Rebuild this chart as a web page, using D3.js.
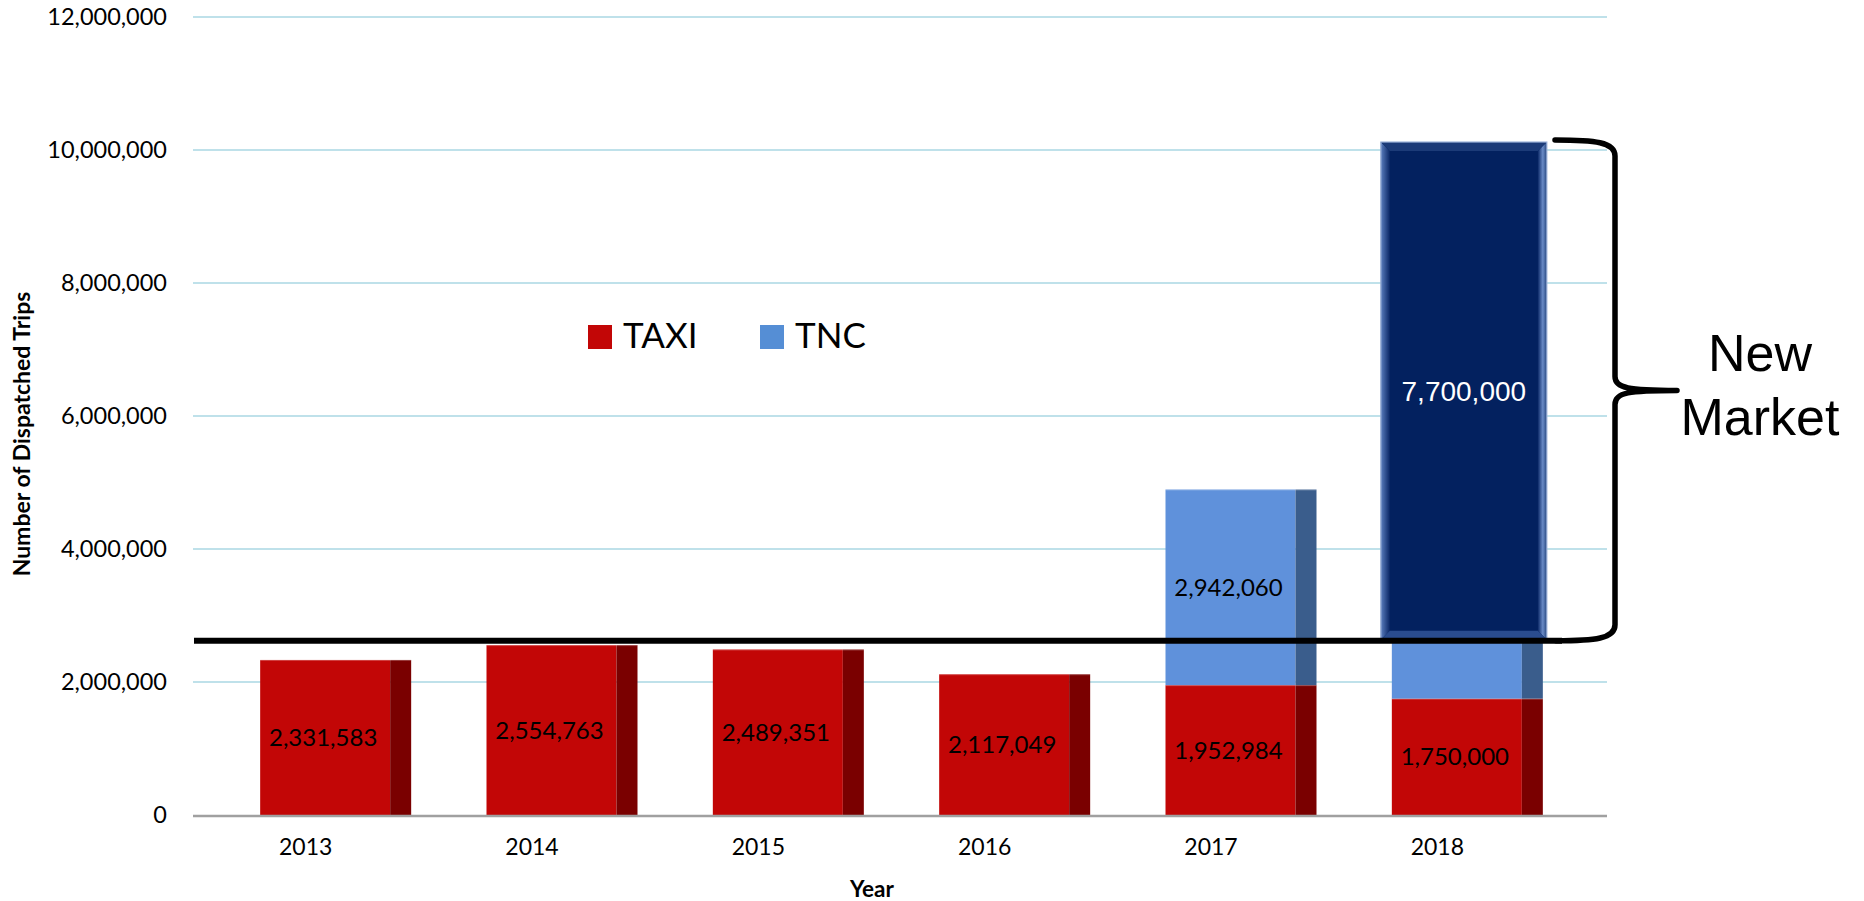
<!DOCTYPE html>
<html>
<head>
<meta charset="utf-8">
<script src="https://cdn.jsdelivr.net/npm/d3@7/dist/d3.min.js"></script>
<style>
html,body{margin:0;padding:0;background:#fff;}
svg{display:block;}
</style>
</head>
<body>
<svg id="chart" width="1864" height="901"></svg>
<script>
// ---- data ----
const years = ["2013", "2014", "2015", "2016", "2017", "2018"];
const taxiTrips = [2331583, 2554763, 2489351, 2117049, 1952984, 1750000];
const tncTrips = [0, 0, 0, 0, 2942060, 8370000];
const tncLabelShown = [false, false, false, false, true, false];
const yTickValues = [0, 2000000, 4000000, 6000000, 8000000, 10000000, 12000000];
const seriesNames = ["TAXI", "TNC"];
const taxiLevel = 2620000;          // black "existing market" line
const newMarketValue = 7700000;     // annotated new market size
const newMarketYear = "2018";

// ---- setup ----
const svg = d3.select("#chart");
const plotLeft = 193, plotRight = 1607;

const y = d3.scaleLinear().domain([0, 12000000]).range([815, 17]);
const x = d3.scalePoint().domain(years).range([192, 1550]).padding(0.5);

const frontOff = -45, frontW = 130, sideW = 21;
const col = {
  taxi: "#C20606", taxiSide: "#7A0000",
  tnc: "#5F91DB", tncSide: "#3A5D8C",
  grid: "#BFE1EA", axis: "#A0A0A0"
};

// gridlines
svg.append("g").selectAll("line").data(yTickValues.filter(d => d > 0)).join("line")
  .attr("x1", plotLeft).attr("x2", plotRight)
  .attr("y1", d => y(d)).attr("y2", d => y(d))
  .attr("stroke", col.grid).attr("stroke-width", 2.2);

// y axis labels
const yAxis = d3.axisLeft(y).tickValues(yTickValues).tickFormat(d3.format(",")).tickSize(0).tickPadding(26);
const gy = svg.append("g").attr("transform", `translate(${plotLeft},0)`).call(yAxis);
gy.select(".domain").remove();
gy.selectAll("text").attr("font-family", "Lato, sans-serif").attr("font-size", 23.5).attr("fill", "#000");

// stacked data
const rows = years.map((yr, i) => ({ year: yr, taxi: taxiTrips[i], tnc: tncTrips[i], showTnc: tncLabelShown[i] }));

const bars = svg.append("g");
rows.forEach(r => {
  const xl = x(r.year) + frontOff;
  const segs = [
    { lo: 0, hi: r.taxi, f: col.taxi, s: col.taxiSide },
    { lo: r.taxi, hi: r.taxi + r.tnc, f: col.tnc, s: col.tncSide }
  ].filter(s => s.hi > s.lo);
  segs.forEach(s => {
    bars.append("rect").attr("x", xl).attr("y", y(s.hi)).attr("width", frontW)
      .attr("height", y(s.lo) - y(s.hi)).attr("fill", s.f);
    bars.append("rect").attr("x", xl + frontW).attr("y", y(s.hi)).attr("width", sideW)
      .attr("height", y(s.lo) - y(s.hi)).attr("fill", s.s);
    bars.append("line").attr("x1", xl).attr("x2", xl + frontW + sideW)
      .attr("y1", y(s.hi) + 0.5).attr("y2", y(s.hi) + 0.5)
      .attr("stroke", "rgba(255,255,255,0.25)").attr("stroke-width", 1);
  });
});

// x axis line
svg.append("line").attr("x1", plotLeft).attr("x2", plotRight).attr("y1", y(0) + 1).attr("y2", y(0) + 1)
  .attr("stroke", col.axis).attr("stroke-width", 2.5);

// x axis labels
const xAxis = d3.axisBottom(x).tickSize(0).tickPadding(24);
const gx = svg.append("g").attr("transform", `translate(0,${y(0)})`).call(xAxis);
gx.select(".domain").remove();
gx.selectAll("text").attr("font-family", "Lato, sans-serif").attr("font-size", 23).attr("fill", "#000");

// data labels
const lbl = svg.append("g").attr("font-family", "Lato, sans-serif").attr("font-size", 24)
  .attr("fill", "#000").attr("text-anchor", "middle");
rows.forEach(r => {
  const cx = x(r.year) + frontOff + frontW / 2 - 2;
  lbl.append("text").attr("x", cx).attr("y", (y(0) + y(r.taxi)) / 2).attr("dy", "0.36em")
    .text(d3.format(",")(r.taxi));
  if (r.showTnc) {
    lbl.append("text").attr("x", cx).attr("y", (y(r.taxi) + y(r.taxi + r.tnc)) / 2).attr("dy", "0.36em")
      .text(d3.format(",")(r.tnc));
  }
});

// new market box (bevelled)
const nm = rows.find(r => r.year === newMarketYear);
const bx0 = x(newMarketYear) - 56, bx1 = x(newMarketYear) + 110;
const by0 = y(nm.taxi + nm.tnc), by1 = y(taxiLevel) - 1;
const bev = 9;
const defs = svg.append("defs");
const gL = defs.append("linearGradient").attr("id", "bevL").attr("x1", "0").attr("x2", "1");
gL.append("stop").attr("offset", "0").attr("stop-color", "#5B7EBE");
gL.append("stop").attr("offset", "1").attr("stop-color", "#0A2766");
const gR = defs.append("linearGradient").attr("id", "bevR").attr("x1", "1").attr("x2", "0");
gR.append("stop").attr("offset", "0").attr("stop-color", "#27477F");
gR.append("stop").attr("offset", "0.45").attr("stop-color", "#6A8BC6");
gR.append("stop").attr("offset", "1").attr("stop-color", "#0A2766");
const nmG = svg.append("g");
nmG.append("rect").attr("x", bx0).attr("y", by0).attr("width", bx1 - bx0).attr("height", by1 - by0)
  .attr("fill", "#03215F");
nmG.append("polygon").attr("points", [[bx0, by0], [bx0 + bev, by0 + bev], [bx0 + bev, by1 - bev], [bx0, by1]].join(" "))
  .attr("fill", "url(#bevL)");
nmG.append("polygon").attr("points", [[bx1, by0], [bx1 - bev, by0 + bev], [bx1 - bev, by1 - bev], [bx1, by1]].join(" "))
  .attr("fill", "url(#bevR)");
nmG.append("polygon").attr("points", [[bx0, by0], [bx1, by0], [bx1 - bev, by0 + bev], [bx0 + bev, by0 + bev]].join(" "))
  .attr("fill", "#1C3B78");
nmG.append("polygon").attr("points", [[bx0, by1], [bx1, by1], [bx1 - bev, by1 - bev], [bx0 + bev, by1 - bev]].join(" "))
  .attr("fill", "#2A4C8E");
nmG.append("rect").attr("x", bx0).attr("y", by0).attr("width", bx1 - bx0).attr("height", by1 - by0)
  .attr("fill", "none").attr("stroke", "#9DB3DA").attr("stroke-width", 1.2);
nmG.append("text").attr("x", (bx0 + bx1) / 2).attr("y", (by0 + by1) / 2).attr("dy", "0.36em")
  .attr("text-anchor", "middle").attr("font-family", "'Liberation Sans', Arial, sans-serif")
  .attr("font-size", 28).attr("fill", "#fff").text(d3.format(",")(newMarketValue));

// black existing-market line
const ly = y(taxiLevel);
svg.append("line").attr("x1", plotLeft + 1).attr("x2", 1562).attr("y1", ly).attr("y2", ly)
  .attr("stroke", "#000").attr("stroke-width", 6);

// brace
const bT = by0 - 2, bB = ly, bM = (bT + bB) / 2, bxV = 1615;
const braceD = `M1555,${bT} C1595,${bT} ${bxV},${bT + 2} ${bxV},${bT + 16} L${bxV},${bM - 14} C${bxV},${bM - 2} ${bxV + 14},${bM} 1677,${bM}` +
  ` M1677,${bM} C${bxV + 14},${bM} ${bxV},${bM + 2} ${bxV},${bM + 14} L${bxV},${bB - 16} C${bxV},${bB - 2} 1595,${bB} 1556,${bB}`;
svg.append("path").attr("d", braceD).attr("fill", "none").attr("stroke", "#000")
  .attr("stroke-width", 5.5).attr("stroke-linecap", "round").attr("stroke-linejoin", "round");

const nmT = svg.append("text").attr("font-family", "'Liberation Sans', Arial, sans-serif")
  .attr("font-size", 52).attr("fill", "#000").attr("text-anchor", "middle");
nmT.append("tspan").attr("x", 1760).attr("y", 371).text("New");
nmT.append("tspan").attr("x", 1760).attr("y", 435).text("Market");

// legend
const legColors = [col.taxi, "#558ED5"];
const legX = [588, 760];
seriesNames.forEach((n, i) => {
  svg.append("rect").attr("x", legX[i]).attr("y", 325).attr("width", 24).attr("height", 24).attr("fill", legColors[i]);
  svg.append("text").attr("x", legX[i] + 35).attr("y", 348).attr("font-family", "Lato, sans-serif")
    .attr("font-size", 35).attr("fill", "#000").text(n);
});

// axis titles
svg.append("text").attr("transform", `translate(30,${434}) rotate(-90)`).attr("text-anchor", "middle")
  .attr("font-family", "Lato, sans-serif").attr("font-weight", "bold").attr("font-size", 23)
  .attr("fill", "#000").text("Number of Dispatched Trips");
svg.append("text").attr("x", 872).attr("y", 897).attr("text-anchor", "middle")
  .attr("font-family", "Lato, sans-serif").attr("font-weight", "bold").attr("font-size", 22.5)
  .attr("fill", "#000").text("Year");
</script>
</body>
</html>
